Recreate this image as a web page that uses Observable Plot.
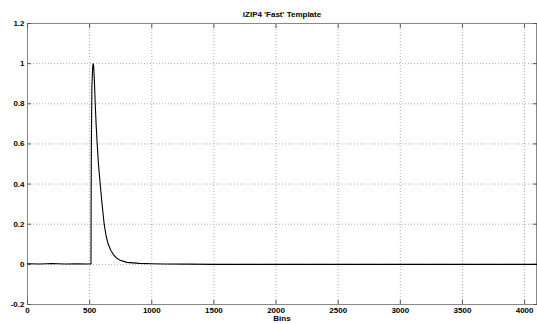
<!DOCTYPE html>
<html>
<head>
<meta charset="utf-8">
<script src="https://cdn.jsdelivr.net/npm/d3@7"></script>
<script src="https://cdn.jsdelivr.net/npm/@observablehq/plot@0.6"></script>
<style>
  html, body { margin: 0; padding: 0; background: #fff; }
  svg { display: block; }
</style>
</head>
<body>
<div id="chart"></div>
<script>
const title = "iZIP4 'Fast' Template";
const xLabel = "Bins";
const xTicks = [0, 500, 1000, 1500, 2000, 2500, 3000, 3500, 4000];
const yTicks = [-0.2, 0, 0.2, 0.4, 0.6, 0.8, 1, 1.2];

// template pulse (bin, amplitude)
const bins = [0, 100, 200, 300, 400, 480, 511, 512, 514, 518, 524, 528, 532, 538, 545, 552, 561, 571, 585, 600, 617, 633, 650, 670, 690, 715, 746, 800, 900, 1000, 1100, 1300, 1500, 2000, 2500, 3000, 3500, 4000, 4096];
const amps = [0.003, 0.002, 0.004, 0.002, 0.003, 0.002, 0.002, 0.3, 0.6, 0.88, 0.98, 1.0, 0.99, 0.92, 0.8, 0.7, 0.6, 0.5, 0.4, 0.3, 0.2, 0.14, 0.1, 0.07, 0.05, 0.032, 0.02, 0.01, 0.005, 0.003, 0.002, 0.001, 0.0, 0.0, 0.0, 0.0, 0.0, 0.0, 0.0];

const data = bins.map((b, i) => ({bin: b, amp: amps[i]}));

const font = "Liberation Sans, Arial, sans-serif";

const chart = Plot.plot({
  width: 537,
  height: 324,
  marginLeft: 27,
  marginRight: 1,
  marginTop: 23,
  marginBottom: 20,
  style: {fontFamily: font, fontSize: "8px", color: "#000", background: "#fff"},
  x: {domain: [0, 4096], ticks: xTicks, label: null},
  y: {domain: [-0.2, 1.2], ticks: yTicks, label: null},
  marks: [
    Plot.gridX(xTicks, {stroke: "#aaa", strokeOpacity: 1, strokeDasharray: "1,2"}),
    Plot.gridY(yTicks, {stroke: "#aaa", strokeOpacity: 1, strokeDasharray: "1,2"}),
    Plot.frame({stroke: "#888"}),
    Plot.axisX(xTicks, {anchor: "bottom", tickSize: -4, tickPadding: 7, stroke: "#555", fontWeight: "bold", tickFormat: d => String(d)}),
    Plot.axisX(xTicks, {anchor: "top", tickSize: -4, stroke: "#555", tickFormat: () => ""}),
    Plot.axisY(yTicks, {anchor: "left", tickSize: -4, tickPadding: 7, stroke: "#555", fontWeight: "bold", tickFormat: d => String(Math.round(d * 10) / 10)}),
    Plot.axisY(yTicks, {anchor: "right", tickSize: -4, stroke: "#555", tickFormat: () => ""}),
    Plot.line(data, {x: "bin", y: "amp", stroke: "#000", strokeWidth: 1.1}),
    Plot.text([title], {frameAnchor: "top", dy: -12, fontWeight: "bold", fontSize: 8}),
    Plot.text([xLabel], {frameAnchor: "bottom", dy: 16.5, fontWeight: "bold", fontSize: 8})
  ]
});
document.getElementById("chart").appendChild(chart);
</script>
</body>
</html>
